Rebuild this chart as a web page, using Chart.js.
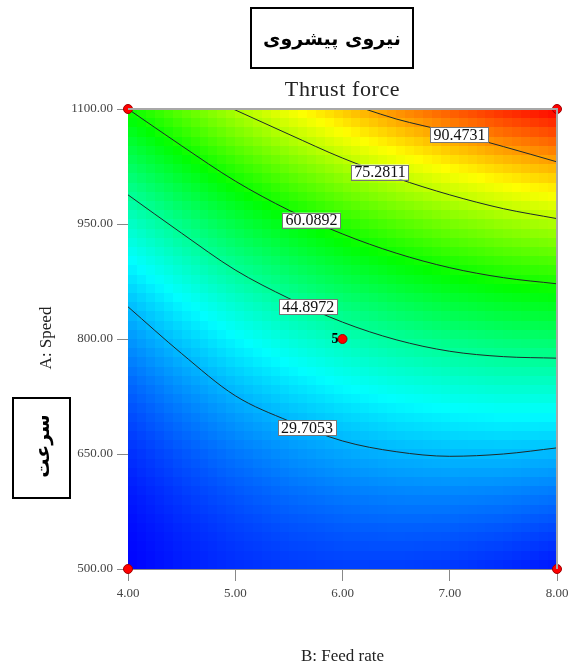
<!DOCTYPE html>
<html>
<head>
<meta charset="utf-8">
<script src="https://cdn.jsdelivr.net/npm/chart.js@4.4.0/dist/chart.umd.min.js"></script>
<style>
    html, body { margin: 0; padding: 0; background: #fff; }
</style>
</head>
<body>
<canvas id="thrustChart" width="575" height="669"></canvas>
<script>
// B: Feed rate columns and A: Speed rows of the response grid
const feedGrid = [4.0, 4.5, 5.0, 5.5, 6.0, 6.5, 7.0, 7.5, 8.0];
const speedGrid = [500, 550, 600, 650, 700, 750, 800, 850, 900, 950, 1000, 1050, 1100];

// thrust force, one row per speed
const thrustAt500 = [13.6, 15.8, 17.4, 18.4, 18.9, 18.8, 18.2, 17.0, 15.2];
const thrustAt550 = [14.4, 17.0, 19.0, 20.5, 21.4, 21.8, 21.6, 20.8, 19.5];
const thrustAt600 = [15.7, 18.8, 21.2, 23.2, 24.5, 25.3, 25.5, 25.2, 24.3];
const thrustAt650 = [17.6, 21.1, 24.0, 26.4, 28.2, 29.4, 30.1, 30.2, 29.7];
const thrustAt700 = [20.0, 24.0, 27.3, 30.1, 32.3, 34.0, 35.1, 35.7, 35.6];
const thrustAt750 = [23.0, 27.4, 31.2, 34.4, 37.1, 39.2, 40.7, 41.7, 42.1];
const thrustAt800 = [26.6, 31.4, 35.6, 39.3, 42.4, 44.9, 46.9, 48.3, 49.2];
const thrustAt850 = [30.7, 35.9, 40.6, 44.7, 48.3, 51.2, 53.7, 55.5, 56.8];
const thrustAt900 = [35.4, 41.1, 46.2, 50.7, 54.7, 58.1, 61.0, 63.3, 65.0];
const thrustAt950 = [40.6, 46.7, 52.3, 57.2, 61.7, 65.5, 68.8, 71.5, 73.7];
const thrustAt1000 = [46.4, 52.9, 58.9, 64.3, 69.2, 73.5, 77.2, 80.4, 83.0];
const thrustAt1050 = [52.7, 59.7, 66.1, 72.0, 77.3, 82.0, 86.2, 89.8, 92.8];
const thrustAt1100 = [59.6, 67.0, 73.9, 80.2, 85.9, 91.1, 95.7, 99.7, 103.2];

// contour lines (feed rate, speed)
const contourLevels = ["29.7053", "44.8972", "60.0892", "75.2811", "90.4731"];
const contour1Feed = [4.0, 4.5, 5.0, 5.5, 6.0, 6.5, 7.0, 7.5, 8.0];
const contour1Speed = [842, 781, 726, 693, 667, 653, 647, 650, 658];
const contour2Feed = [4.0, 4.5, 5.0, 5.5, 6.0, 6.5, 7.0, 7.5, 8.0];
const contour2Speed = [988, 938, 890, 853, 822, 799, 784, 777, 775];
const contour3Feed = [4.0, 4.5, 5.0, 5.5, 6.0, 6.5, 7.0, 7.5, 8.0];
const contour3Speed = [1100, 1052, 1006, 968, 937, 912, 893, 880, 872];
const contour4Feed = [4.98, 5.5, 6.0, 6.5, 7.0, 7.5, 8.0];
const contour4Speed = [1100, 1067, 1036, 1010, 988, 970, 957];
const contour5Feed = [6.21, 6.5, 7.0, 7.5, 8.0];
const contour5Speed = [1100, 1087, 1070, 1051, 1031];
const contourLabelFeed = [5.67, 5.68, 5.71, 6.35, 7.09];

// design points
const designFeed = [4, 4, 8, 8, 6];
const designSpeed = [500, 1100, 500, 1100, 800];
const designRuns = ["", "", "", "", "5"];

const feedTicks = [4, 5, 6, 7, 8];
const speedTicks = [500, 650, 800, 950, 1100];

const thrustGrid = [thrustAt500, thrustAt550, thrustAt600, thrustAt650, thrustAt700, thrustAt750, thrustAt800,
    thrustAt850, thrustAt900, thrustAt950, thrustAt1000, thrustAt1050, thrustAt1100];
const contourFeeds = [contour1Feed, contour2Feed, contour3Feed, contour4Feed, contour5Feed];
const contourSpeeds = [contour1Speed, contour2Speed, contour3Speed, contour4Speed, contour5Speed];

const allThrust = thrustGrid.flat();
const thrustMin = Math.min(...allThrust);
const thrustMax = Math.max(...allThrust);

const colorStops = [[0, 0, 255], [0, 255, 255], [0, 255, 0], [255, 255, 0], [255, 0, 0]];
const rainbow = (t) => {
    const s = Math.max(0, Math.min(1, t)) * (colorStops.length - 1);
    const i = Math.min(colorStops.length - 2, Math.floor(s));
    const f = s - i;
    const c = colorStops[i].map((v, k) => Math.round(v + (colorStops[i + 1][k] - v) * f));
    return `rgb(${c[0]},${c[1]},${c[2]})`;
};

const findCell = (grid, v) => {
    let i = 0;
    while (i < grid.length - 2 && v > grid[i + 1]) i++;
    return [i, (v - grid[i]) / (grid[i + 1] - grid[i])];
};

const sampleThrust = (feed, speed) => {
    const [ci, fx] = findCell(feedGrid, feed);
    const [ri, fy] = findCell(speedGrid, speed);
    const r0 = thrustGrid[ri], r1 = thrustGrid[ri + 1];
    const low = r0[ci] + (r0[ci + 1] - r0[ci]) * fx;
    const high = r1[ci] + (r1[ci + 1] - r1[ci]) * fx;
    return low + (high - low) * fy;
};

const lineSpeedAt = (feeds, speeds, feed) => {
    const [i, f] = findCell(feeds, feed);
    return speeds[i] + (speeds[i + 1] - speeds[i]) * f;
};

const heatmapPlugin = {
    id: "heatmap",
    beforeDatasetsDraw(chart) {
        const { ctx, scales: { x, y } } = chart;
        const cols = 48, rows = 50;
        const df = (x.max - x.min) / cols;
        const ds = (y.max - y.min) / rows;
        const xEdges = [];
        for (let i = 0; i <= cols; i++) xEdges.push(Math.round(x.getPixelForValue(x.min + i * df)));
        const yEdges = [];
        for (let j = 0; j <= rows; j++) yEdges.push(Math.round(y.getPixelForValue(y.min + j * ds)));
        ctx.save();
        for (let i = 0; i < cols; i++) {
            for (let j = 0; j < rows; j++) {
                const v = sampleThrust(x.min + (i + 0.5) * df, y.min + (j + 0.5) * ds);
                ctx.fillStyle = rainbow((v - thrustMin) / (thrustMax - thrustMin));
                ctx.fillRect(xEdges[i], yEdges[j + 1], xEdges[i + 1] - xEdges[i], yEdges[j] - yEdges[j + 1]);
            }
        }
        ctx.restore();
    },
};

const labelsPlugin = {
    id: "contourLabels",
    afterDatasetsDraw(chart) {
        const { ctx, chartArea, scales: { x, y } } = chart;
        ctx.save();
        // plot frame, top and right
        ctx.strokeStyle = "#a8a8a8";
        ctx.lineWidth = 2;
        ctx.beginPath();
        ctx.moveTo(chartArea.left, chartArea.top);
        ctx.lineTo(chartArea.right, chartArea.top);
        ctx.lineTo(chartArea.right, chartArea.bottom);
        ctx.stroke();

        ctx.font = "16px 'Liberation Serif'";
        ctx.textAlign = "center";
        ctx.textBaseline = "middle";
        contourLevels.forEach((level, k) => {
            const feed = contourLabelFeed[k];
            const px = x.getPixelForValue(feed);
            const py = y.getPixelForValue(lineSpeedAt(contourFeeds[k], contourSpeeds[k], feed));
            const w = ctx.measureText(level).width + 6;
            const h = 15;
            ctx.fillStyle = "#fff";
            ctx.fillRect(px - w / 2, py - h / 2, w, h);
            ctx.strokeStyle = "#777";
            ctx.lineWidth = 1;
            ctx.strokeRect(Math.round(px - w / 2) + 0.5, Math.round(py - h / 2) + 0.5, Math.round(w), h);
            ctx.fillStyle = "#111";
            ctx.fillText(level, px, py + 1);
        });

        ctx.font = "bold 14px 'Liberation Serif'";
        ctx.textAlign = "right";
        designRuns.forEach((run, k) => {
            if (!run) return;
            ctx.fillStyle = "#000";
            ctx.fillText(run, x.getPixelForValue(designFeed[k]) - 4, y.getPixelForValue(designSpeed[k]));
        });
        ctx.restore();
    },
    afterDraw(chart) {
        const { ctx, chartArea } = chart;
        const midX = (chartArea.left + chartArea.right) / 2;
        ctx.save();
        ctx.fillStyle = "#222";
        ctx.textAlign = "center";

        ctx.font = "22px 'Liberation Serif'";
        ctx.letterSpacing = "0.6px";
        ctx.textBaseline = "alphabetic";
        ctx.fillText("Thrust force", midX, 96);
        ctx.letterSpacing = "0px";

        ctx.font = "17px 'Liberation Serif'";
        ctx.textBaseline = "middle";
        ctx.fillText("B: Feed rate", midX, 657);

        ctx.save();
        ctx.translate(47, 338);
        ctx.rotate(-Math.PI / 2);
        ctx.fillText("A: Speed", 0, 0);
        ctx.restore();

        // Persian captions in boxes
        ctx.strokeStyle = "#000";
        ctx.lineWidth = 2;
        ctx.strokeRect(251, 8, 162, 60);
        ctx.strokeRect(13, 398, 57, 100);
        ctx.fillStyle = "#000";
        ctx.font = "bold 19px 'DejaVu Sans'";
        ctx.fillText("نیروی پیشروی", 332, 40);
        ctx.save();
        ctx.translate(44, 446);
        ctx.rotate(-Math.PI / 2);
        ctx.fillText("سرعت", 0, 0);
        ctx.restore();
        ctx.restore();
    },
};

const contourDatasets = contourLevels.map((level, k) => ({
    label: level,
    data: contourFeeds[k].map((feed, i) => ({ x: feed, y: contourSpeeds[k][i] })),
    showLine: true,
    borderColor: "#1e2a2a",
    borderWidth: 1,
    pointRadius: 0,
    cubicInterpolationMode: "monotone",
}));

const tickFont = { family: "'Liberation Serif'", size: 13 };

new Chart(document.getElementById("thrustChart"), {
    type: "scatter",
    data: {
        datasets: [
            {
                label: "Design points",
                data: designFeed.map((feed, i) => ({ x: feed, y: designSpeed[i] })),
                pointRadius: 4.5,
                backgroundColor: "#ff0000",
                borderColor: "#a00000",
                borderWidth: 1,
                clip: false,
            },
            ...contourDatasets,
        ],
    },
    options: {
        responsive: false,
        animation: false,
        layout: { padding: { top: 109, right: 18, left: 0, bottom: 0 } },
        plugins: {
            legend: { display: false },
            tooltip: { enabled: false },
        },
        scales: {
            x: {
                type: "linear",
                min: 4,
                max: 8,
                afterBuildTicks: (axis) => { axis.ticks = feedTicks.map((value) => ({ value })); },
                afterFit: (axis) => { axis.height = 100; },
                ticks: {
                    callback: (v) => Number(v).toFixed(2),
                    font: tickFont,
                    color: "#444",
                    padding: 5,
                    maxRotation: 0,
                },
                grid: { drawOnChartArea: false, tickLength: 12, color: "#888" },
                border: { color: "#888" },
            },
            y: {
                type: "linear",
                min: 500,
                max: 1100,
                afterBuildTicks: (axis) => { axis.ticks = speedTicks.map((value) => ({ value })); },
                afterFit: (axis) => { axis.width = 128; },
                ticks: {
                    callback: (v) => Number(v).toFixed(2),
                    font: tickFont,
                    color: "#444",
                    padding: 4,
                },
                grid: { drawOnChartArea: false, tickLength: 11, color: "#888" },
                border: { color: "#888" },
            },
        },
    },
    plugins: [heatmapPlugin, labelsPlugin],
});
</script>
</body>
</html>
